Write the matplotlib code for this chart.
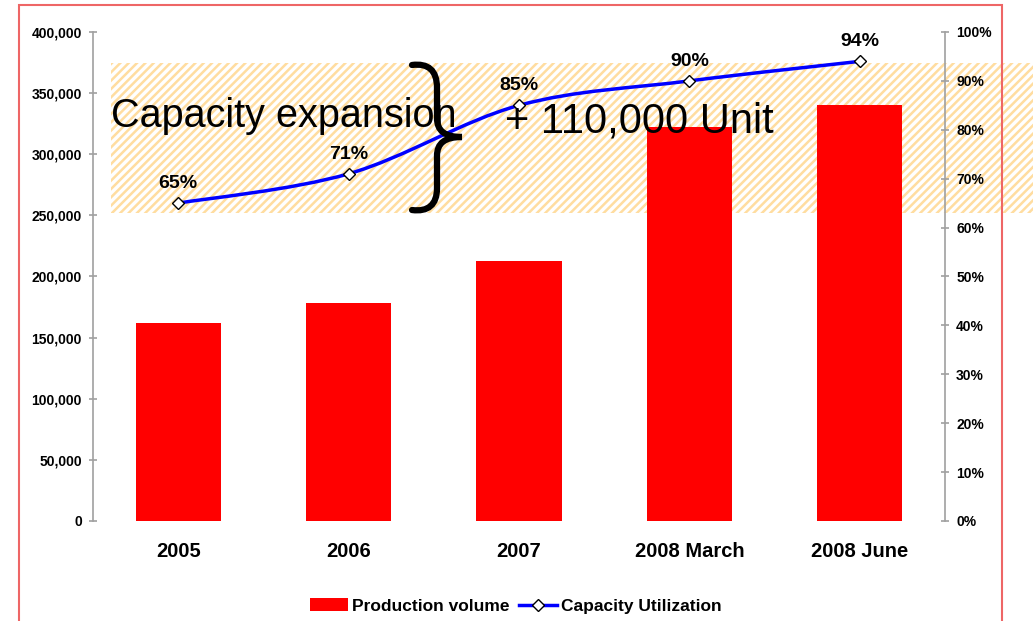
import matplotlib
matplotlib.use("Agg")
import matplotlib.pyplot as plt
from matplotlib.patches import Rectangle, PathPatch, Patch
from matplotlib.path import Path
from matplotlib.lines import Line2D
from matplotlib.ticker import FuncFormatter, MultipleLocator
from matplotlib.transforms import Affine2D
import numpy as np

categories = ["2005", "2006", "2007", "2008 March", "2008 June"]
production_volume = [162000, 178000, 213000, 322000, 340000]
capacity_utilization = [65, 71, 85, 90, 94]
util_labels = ["65%", "71%", "85%", "90%", "94%"]

plt.rcParams['font.family'] = ['Liberation Sans', 'DejaVu Sans']
plt.rcParams['hatch.linewidth'] = 1.8

W, H = 1033, 621
fig = plt.figure(figsize=(W / 100, H / 100), dpi=100)
fig.patch.set_facecolor('white')

# hatched band (behind the chart)
band = Rectangle((111 / W, 1 - 213 / H), 1 - 111 / W + 0.01, 150 / H,
                 transform=fig.transFigure, facecolor='white',
                 edgecolor='#FFDDA0', hatch='////', linewidth=0, zorder=-1)
fig.patches.append(band)

ax = fig.add_axes([93 / W, 1 - 521 / H, (945 - 93) / W, (521 - 32) / H])
ax.set_facecolor('none')
ax2 = ax.twinx()
ax2.set_facecolor('none')

x = np.arange(len(categories))
ax.bar(x, production_volume, width=0.5, color='#FF0000', zorder=2)
ax.set_xlim(-0.5, len(categories) - 0.5)
ax.set_ylim(0, 400000)
ax.yaxis.set_major_locator(MultipleLocator(50000))
ax.yaxis.set_major_formatter(FuncFormatter(lambda v, p: f"{int(v):,}"))
ax.set_xticks(x)
ax.set_xticklabels(categories, fontsize=14.5, fontweight='bold')
ax.tick_params(axis='x', length=0, pad=15)

grey = '#A0A0A0'
for a in (ax, ax2):
    for s in ('top', 'bottom'):
        a.spines[s].set_visible(False)
ax.spines['right'].set_visible(False)
ax2.spines['left'].set_visible(False)
ax.spines['left'].set_color(grey)
ax2.spines['right'].set_color(grey)
ax.spines['left'].set_linewidth(1.2)
ax2.spines['right'].set_linewidth(1.2)
ax.tick_params(axis='y', direction='inout', length=6, width=1.2, color=grey,
               labelsize=10, pad=5)
ax2.tick_params(axis='y', direction='inout', length=6, width=1.2, color=grey,
                labelsize=10, pad=5)
for lab in ax.get_yticklabels():
    lab.set_fontweight('bold')

ax2.set_ylim(0, 100)
ax2.yaxis.set_major_locator(MultipleLocator(10))
ax2.yaxis.set_major_formatter(FuncFormatter(lambda v, p: f"{int(v)}%"))
for lab in ax2.get_yticklabels():
    lab.set_fontweight('bold')

# smooth line (Catmull-Rom as Bezier, like Excel's smoothed line)
pts = np.column_stack([x, capacity_utilization]).astype(float)
verts = [tuple(pts[0])]
codes = [Path.MOVETO]
n = len(pts)
for i in range(n - 1):
    p0 = pts[i - 1] if i > 0 else pts[i]
    p1 = pts[i]
    p2 = pts[i + 1]
    p3 = pts[i + 2] if i + 2 < n else pts[i + 1]
    c1 = p1 + (p2 - p0) / 6
    c2 = p2 - (p3 - p1) / 6
    verts += [tuple(c1), tuple(c2), tuple(p2)]
    codes += [Path.CURVE4] * 3
ax2.add_patch(PathPatch(Path(verts, codes), facecolor='none', edgecolor='#0000FF',
                        linewidth=2.5, zorder=3))
ax2.plot(x, capacity_utilization, linestyle='none', marker='D', markersize=6.5,
         markerfacecolor='white', markeredgecolor='black', markeredgewidth=1, zorder=4)
for xi, yi, lbl in zip(x, capacity_utilization, util_labels):
    ax2.annotate(lbl, (xi, yi), xytext=(0, 8), textcoords='offset points',
                 ha='center', va='bottom', fontsize=14, fontweight='bold', zorder=5)

# annotation texts
fig.text(111 / W, 1 - 127 / H, "Capacity expansion", fontsize=28.5,
         ha='left', va='baseline', zorder=6)
fig.text(505 / W, 1 - 132 / H, "+ 110,000 Unit", fontsize=30,
         ha='left', va='baseline', zorder=6)

# curly brace drawn as a path (pixel coordinates, y measured from top)
brace_px = [(412, 65), (428, 63), (437, 70), (437, 88),
            (437, 118),
            (437, 131), (445, 137), (462, 137),
            (445, 137), (437, 143), (437, 156),
            (437, 188),
            (437, 205), (428, 212), (412, 210)]
brace_codes = [Path.MOVETO, Path.CURVE4, Path.CURVE4, Path.CURVE4,
               Path.LINETO,
               Path.CURVE4, Path.CURVE4, Path.CURVE4,
               Path.CURVE4, Path.CURVE4, Path.CURVE4,
               Path.LINETO,
               Path.CURVE4, Path.CURVE4, Path.CURVE4]
to_fig = Affine2D().scale(1 / W, -1 / H).translate(0, 1) + fig.transFigure
fig.patches.append(PathPatch(Path(brace_px, brace_codes), facecolor='none',
                             edgecolor='black', linewidth=4.5, capstyle='round',
                             joinstyle='miter', transform=to_fig, zorder=6))

# legend
handles = [Patch(facecolor='#FF0000', edgecolor='none'),
           Line2D([], [], color='#0000FF', linewidth=2.5, marker='D', markersize=6.5,
                  markerfacecolor='white', markeredgecolor='black')]
fig.legend(handles, ["Production volume", "Capacity Utilization"], loc='center',
           bbox_to_anchor=(516 / W, 1 - 606 / H), ncol=2, frameon=False,
           prop={'weight': 'bold', 'size': 12.5}, handlelength=2.15, handleheight=0.8,
           handletextpad=0.25, columnspacing=0.55)

# outer border
fig.patches.append(Rectangle((19 / W, -0.1), (1002 - 19) / W, 1.1 - 5 / H,
                             transform=fig.transFigure, facecolor='none',
                             edgecolor='#EE6666', linewidth=1.5, zorder=10))

fig.savefig("out.png", dpi=100)
